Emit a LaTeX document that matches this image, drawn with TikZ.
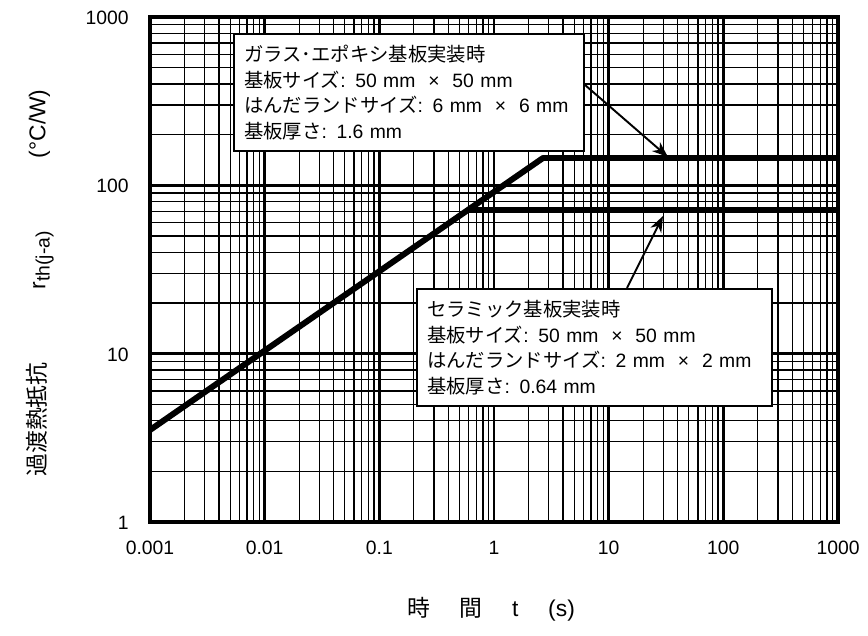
\documentclass[tikz,border=0pt]{standalone}
\usepackage{fontspec}
\setmainfont{Liberation Sans}
\newfontfamily\jp{Noto Sans CJK JP}
\usetikzlibrary{arrows.meta}
\tikzset{
  minorgrid/.style={line width=0.7pt, black},
  majorgrid/.style={line width=1.4pt, black},
  frameline/.style={line width=2.6pt, black},
  curveline/.style={line width=3.4pt, black, line join=bevel},
  tick/.style={inner sep=0pt, font=\fontsize{11}{13}\selectfont},
  infobox/.style={draw, fill=white, line width=1.4pt, anchor=north west,
     inner xsep=0.2cm, inner ysep=0pt, align=left,
     font=\fontsize{11}{14.6}\selectfont},
  pointer/.style={line width=1.1pt, -{Stealth[length=0.32cm, width=0.24cm, inset=0.1cm]}},
  axtitle/.style={inner sep=0pt, font=\fontsize{13}{15}\selectfont}
}
\begin{document}
\begin{tikzpicture}[x=0.02cm, y=-0.02cm]
\useasboundingbox (0,0) rectangle (868,635);
% minor grid
\foreach \d in {0,...,5}{
  \foreach \k in {2,...,9}{
    \draw[minorgrid] ({150+114.67*(\d+log10(\k))},17) -- ++(0,505);
  }
}
\foreach \d in {0,1,2}{
  \foreach \k in {2,...,9}{
    \draw[minorgrid] (150,{522-168.33*(\d+log10(\k))}) -- ++(688,0);
  }
}
% decade lines
\foreach \d in {1,...,5}{
  \draw[majorgrid] ({150+114.67*\d},17) -- ++(0,505);
}
\foreach \d in {1,2}{
  \draw[majorgrid] (150,{522-168.33*\d}) -- ++(688,0);
}
% curves
\draw[curveline] (150,430) -- (543,158) -- (838,158);
\draw[curveline] (468,210) -- (838,210);
% frame
\draw[frameline] (150,17) rectangle (838,522);
% tick labels
\foreach \lab [count=\i from 0] in {0.001,0.01,0.1,1,10,100,1000}{
  \node[tick] (xl\i) at ({150+114.67*\i},548) {\lab};
}
\foreach \lab [count=\i from 0] in {1,10,100,1000}{
  \node[tick, anchor=east] (yl\i) at (129,{523-168.33*\i}) {\lab};
}
% boxes
\node[infobox, minimum width=7cm, minimum height=2.34cm, text width=6.6cm] (box1) at (233,33)
 {{\jp ガラス･エポキシ基板実装時}\\
  {\jp 基板サイズ}: 50 mm\ \ ×\ \ 50 mm\\
  {\jp はんだランドサイズ}: 6 mm\ \ ×\ \ 6 mm\\
  {\jp 基板厚さ}: 1.6 mm};
\node[infobox, minimum width=7.1cm, minimum height=2.34cm, text width=6.7cm] (box2) at (416,288)
 {{\jp セラミック基板実装時}\\
  {\jp 基板サイズ}: 50 mm\ \ ×\ \ 50 mm\\
  {\jp はんだランドサイズ}: 2 mm\ \ ×\ \ 2 mm\\
  {\jp 基板厚さ}: 0.64 mm};
% arrows
\coordinate (a1s) at (585,85);
\coordinate (a1t) at (668,157);
\coordinate (a2s) at (627,288);
\coordinate (a2t) at (663,216);
\draw[pointer] (a1s) -- (a1t);
\draw[pointer] (a2s) -- (a2t);
% axis titles
\node[axtitle] (xt) at (491,609) {{\jp 時}\hspace{1.3em}{\jp 間}\hspace{1.3em}t\hspace{1.3em}(s)};
\node[axtitle, rotate=90] (yt) at (40,283) {{\jp 過渡熱抵抗}\hspace{3.2em}r\raisebox{-0.35ex}{\fontsize{11}{13}\selectfont th(j-a)}\hspace{3.2em}(°C/W)};
\end{tikzpicture}
\end{document}
